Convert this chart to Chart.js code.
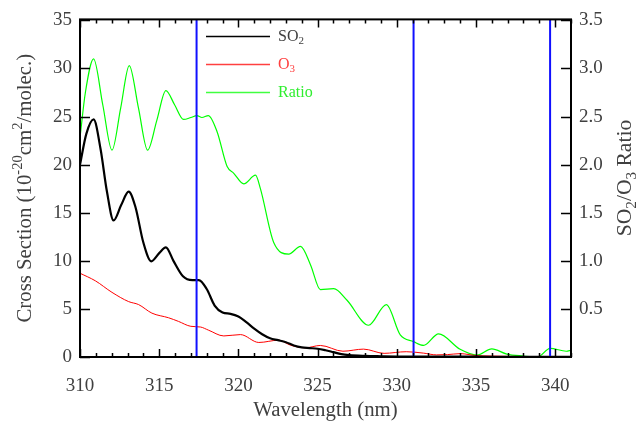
<!DOCTYPE html>
<html>
<head>
<meta charset="utf-8">
<script src="https://cdn.jsdelivr.net/npm/chart.js@4.4.0/dist/chart.umd.min.js"></script>
<style>
  html, body { margin: 0; padding: 0; background: #fff; }
  #wrap { width: 640px; height: 424px; }
</style>
</head>
<body>
<div id="wrap"><canvas id="xsChart"></canvas></div>
<script>
// SO2 cross section (1e-20 cm^2/molec.)
const so2Wl = [310, 310.4, 310.86, 311.3, 311.7, 312.12, 312.6, 313.07, 313.5, 314.0, 314.5, 315.0, 315.42, 315.9, 316.5, 317.1, 317.5, 318.0,
  318.5, 319.0, 319.5, 320.0, 320.5, 321.0, 321.5, 322.0, 322.5, 323.0, 323.5, 324.0, 324.5, 325.0, 325.5, 326.0, 326.5, 327.0, 328.0, 329.0,
  330.0, 332.0, 335.0, 338.0, 341.0];
const so2 = [20.0, 23.2, 24.7, 21.6, 17.2, 14.2, 15.8, 17.2, 15.6, 11.9, 9.95, 10.8, 11.4, 10.0, 8.4, 8.0, 8.0, 7.07,
  5.35, 4.63, 4.49, 4.22, 3.63, 2.95, 2.37, 1.95, 1.75, 1.54, 1.2, 1.0, 0.93, 0.86, 0.7, 0.5, 0.3, 0.2, 0.12, 0.08,
  0.05, 0.04, 0.03, 0.02, 0.02];

// O3 cross section (1e-20 cm^2/molec.)
const o3Wl = [310, 310.97, 312.02, 313.07, 313.7, 314.54, 315.59, 316.22, 317.0, 317.6, 318.1, 319.08, 320.13, 321.29, 322.55, 323.29,
  324.23, 325.18, 326.6, 327.9, 329.2, 330.6, 331.7, 332.5, 333.2, 334.0, 335.0, 336.0, 338.0, 341.0];
const o3 = [8.71, 7.92, 6.72, 5.76, 5.45, 4.56, 4.08, 3.7, 3.19, 3.12, 2.8, 2.19, 2.33, 1.51, 1.75, 1.23,
  0.96, 1.2, 0.6, 0.82, 0.38, 0.55, 0.4, 0.22, 0.25, 0.35, 0.15, 0.1, 0.05, 0.05];

// SO2/O3 ratio
const ratioWl = [310, 310.34, 310.86, 311.44, 312.02, 312.57, 313.11, 313.69, 314.27, 314.85, 315.42, 315.98, 316.54, 317.0, 317.38, 317.7,
  318.1, 318.66, 319.29, 319.71, 320.34, 321.08, 321.39, 322.23, 323.18, 323.92, 324.55, 325.18, 326.02, 326.86, 328.22, 329.34, 330.22,
  331.06, 331.69, 332.64, 334.0, 335.06, 336.0, 336.95, 338.0, 338.9, 339.68, 340.7, 341.0];
const ratio = [2.28, 2.75, 3.10, 2.62, 2.15, 2.59, 3.03, 2.59, 2.15, 2.46, 2.77, 2.62, 2.47, 2.49, 2.51, 2.49,
  2.51, 2.34, 1.98, 1.91, 1.80, 1.89, 1.75, 1.19, 1.07, 1.15, 0.96, 0.70, 0.71, 0.59, 0.33, 0.545, 0.23,
  0.16, 0.12, 0.24, 0.08, 0.02, 0.085, 0.03, 0.01, 0.0, 0.09, 0.06, 0.07];

// vertical marker wavelengths
const markerWl = [317.36, 331.06, 339.68];

// axis ranges and labelled ticks
const xRange = [310, 341];
const yRange = [0, 35.1];
const y1Range = [0, 3.51];
const xTicks = [310, 315, 320, 325, 330, 335, 340];
const yTicks = [0, 5, 10, 15, 20, 25, 30, 35];
const y1Ticks = [0.5, 1.0, 1.5, 2.0, 2.5, 3.0, 3.5];

const FONT = "'Liberation Serif', 'DejaVu Serif', serif";
const TXT = '#404040';

function pts(xs, ys) { return xs.map((x, i) => ({ x: x, y: ys[i] })); }
function setTicks(list) { return s => { s.ticks = list.map(v => ({ value: v })); }; }

// text with sub/superscript runs: [text, 'n' | 'sub' | 'sup']
function richWidth(ctx, parts, size) {
  let w = 0;
  parts.forEach(p => {
    ctx.font = (p[1] === 'n' ? size : Math.round(size * 0.68)) + 'px ' + FONT;
    w += ctx.measureText(p[0]).width;
  });
  return w;
}
function drawRich(ctx, parts, x, y, size, color, align, sx) {
  sx = sx || 1;
  const w = richWidth(ctx, parts, size);
  ctx.save();
  ctx.translate(x, y);
  ctx.scale(sx, 1);
  let cx = align === 'center' ? -w / 2 : 0;
  ctx.fillStyle = color;
  ctx.textBaseline = 'middle';
  ctx.textAlign = 'left';
  parts.forEach(p => {
    const small = p[1] !== 'n';
    ctx.font = (small ? Math.round(size * 0.68) : size) + 'px ' + FONT;
    let dy = 0;
    if (p[1] === 'sub') dy = size * 0.3;
    if (p[1] === 'sup') dy = -size * 0.38;
    ctx.fillText(p[0], cx, dy);
    cx += ctx.measureText(p[0]).width;
  });
  ctx.restore();
}

const legendItems = [
  { parts: [['SO', 'n'], ['2', 'sub']], line: '#000000', text: TXT },
  { parts: [['O', 'n'], ['3', 'sub']], line: '#ff4040', text: '#ff4040' },
  { parts: [['Ratio', 'n']], line: '#40ff40', text: '#30ee30' }
];

const decor = {
  id: 'decor',
  afterDatasetsDraw(chart) {
    const ctx = chart.ctx;
    const a = chart.chartArea;
    const sx = chart.scales.x, sy = chart.scales.y, sy1 = chart.scales.y1;
    ctx.save();
    ctx.strokeStyle = '#000';
    ctx.lineWidth = 1.5;
    ctx.beginPath();
    // x ticks, bottom and top, pointing inward
    for (let v = 310; v <= 341; v++) {
      const px = Math.round(sx.getPixelForValue(v)) + 0.5;
      const len = v % 5 === 0 ? 8 : 4;
      ctx.moveTo(px, a.bottom); ctx.lineTo(px, a.bottom - len);
      ctx.moveTo(px, a.top); ctx.lineTo(px, a.top + len);
    }
    yTicks.forEach(v => {
      const py = Math.round(sy.getPixelForValue(v)) + 0.5;
      ctx.moveTo(a.left, py); ctx.lineTo(a.left + 10, py);
    });
    y1Ticks.forEach(v => {
      const py = Math.round(sy1.getPixelForValue(v)) + 0.5;
      ctx.moveTo(a.right, py); ctx.lineTo(a.right - 10, py);
    });
    ctx.stroke();
    // frame
    ctx.lineWidth = 2;
    ctx.strokeRect(a.left, a.top, a.right - a.left, a.bottom - a.top);

    // legend
    legendItems.forEach((it, i) => {
      const y = a.top + 17 + i * 28;
      ctx.strokeStyle = it.line;
      ctx.lineWidth = 1.5;
      ctx.beginPath();
      ctx.moveTo(a.left + 126, y);
      ctx.lineTo(a.left + 190, y);
      ctx.stroke();
      drawRich(ctx, it.parts, a.left + 198, y, 16, it.text, 'left');
    });

    // axis titles
    drawRich(ctx, [['Wavelength (nm)', 'n']], (a.left + a.right) / 2, 411, 20, TXT, 'center', 1.04);
    ctx.save();
    ctx.translate(26, (a.top + a.bottom) / 2);
    ctx.rotate(-Math.PI / 2);
    drawRich(ctx, [['Cross Section (10', 'n'], ['-20', 'sup'], ['cm', 'n'], ['2', 'sup'], ['/molec.)', 'n']], 0, 0, 20, TXT, 'center', 1.04);
    ctx.restore();
    ctx.save();
    ctx.translate(626, 178);
    ctx.rotate(-Math.PI / 2);
    drawRich(ctx, [['SO', 'n'], ['2', 'sub'], ['/O', 'n'], ['3', 'sub'], [' Ratio', 'n']], 0, 0, 20, TXT, 'center', 1.08);
    ctx.restore();
    ctx.restore();
  }
};

const markerSets = markerWl.map(w => ({
  data: [{ x: w, y: yRange[0] }, { x: w, y: yRange[1] }],
  borderColor: '#1010ff',
  borderWidth: 2,
  pointRadius: 0,
  yAxisID: 'y'
}));

const tickFont = { family: FONT, size: 19 };

new Chart(document.getElementById('xsChart'), {
  type: 'line',
  data: {
    datasets: markerSets.concat([
      { label: 'SO2', data: pts(so2Wl, so2), borderColor: '#000', borderWidth: 2.2, pointRadius: 0, cubicInterpolationMode: 'monotone', yAxisID: 'y' },
      { label: 'O3', data: pts(o3Wl, o3), borderColor: '#ff0000', borderWidth: 1, pointRadius: 0, cubicInterpolationMode: 'monotone', yAxisID: 'y' },
      { label: 'Ratio', data: pts(ratioWl, ratio), borderColor: '#00ff00', borderWidth: 1.2, pointRadius: 0, cubicInterpolationMode: 'monotone', yAxisID: 'y1' }
    ])
  },
  options: {
    responsive: true,
    maintainAspectRatio: false,
    animation: false,
    events: [],
    layout: { padding: { top: 16, left: 0, right: 0, bottom: 0 } },
    plugins: { legend: { display: false }, tooltip: { enabled: false } },
    scales: {
      x: {
        type: 'linear', position: 'bottom', min: xRange[0], max: xRange[1],
        grid: { display: false, drawTicks: false }, border: { display: false },
        ticks: { padding: 18, color: TXT, font: tickFont, maxRotation: 0, autoSkip: false },
        afterBuildTicks: setTicks(xTicks),
        afterFit: s => { s.height = 67; }
      },
      y: {
        position: 'left', min: yRange[0], max: yRange[1],
        grid: { display: false, drawTicks: false }, border: { display: false },
        ticks: { padding: 8, color: TXT, font: tickFont, autoSkip: false },
        afterBuildTicks: setTicks(yTicks),
        afterFit: s => { s.width = 80; }
      },
      y1: {
        position: 'right', min: y1Range[0], max: y1Range[1],
        grid: { display: false, drawTicks: false }, border: { display: false },
        ticks: { padding: 8, color: TXT, font: tickFont, autoSkip: false, callback: v => v.toFixed(1) },
        afterBuildTicks: setTicks(y1Ticks),
        afterFit: s => { s.width = 69; }
      }
    }
  },
  plugins: [decor]
});
</script>
</body>
</html>
